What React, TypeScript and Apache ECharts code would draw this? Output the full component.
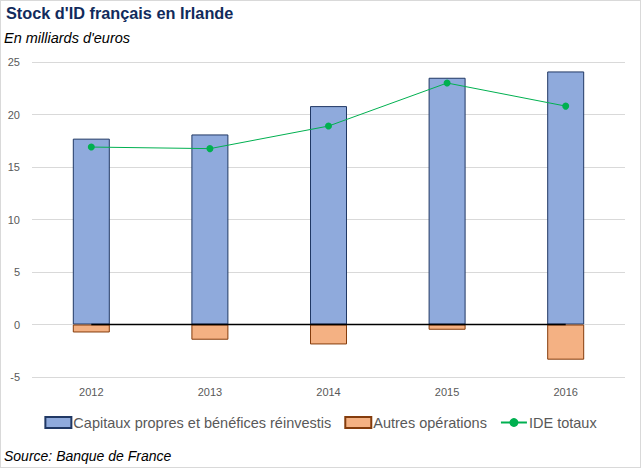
import React, { useEffect, useRef } from "react";
import * as echarts from "echarts";

const years = ["2012", "2013", "2014", "2015", "2016"];
const capitaux = [17.7, 18.1, 20.8, 23.5, 24.1];
const autres = [-0.76, -1.45, -1.9, -0.5, -3.35];
const ideTotaux = [16.9, 16.75, 18.9, 23.0, 20.8];
const zeroLine = [0, 0, 0, 0, 0];

export default function App() {
  const ref = useRef<HTMLDivElement>(null);
  useEffect(() => {
    if (!ref.current) return;
    const chart = echarts.init(ref.current, null, { renderer: "svg" });
    const font = "Liberation Sans";
    chart.setOption({
      animation: false,
      backgroundColor: "#ffffff",
      textStyle: { fontFamily: font },
      title: [
        {
          text: "Stock d'ID français en Irlande",
          left: 5,
          top: 4,
          padding: 0,
          textStyle: { fontFamily: font, fontSize: 16.3, fontWeight: "bold", color: "#112b5c" },
        },
        {
          text: "En milliards d'euros",
          left: 3,
          top: 29,
          padding: 0,
          textStyle: { fontFamily: font, fontSize: 14.5, fontStyle: "italic", fontWeight: "normal", color: "#000" },
        },
        {
          text: "Source: Banque de France",
          left: 3,
          top: 448,
          padding: 0,
          textStyle: { fontFamily: font, fontSize: 14, fontStyle: "italic", fontWeight: "normal", color: "#000" },
        },
      ],
      legend: {
        left: "center",
        top: 409,
        itemWidth: 26,
        itemHeight: 11,
        itemGap: 13,
        textStyle: { fontFamily: font, fontSize: 14.5, color: "#595959", padding: [0, 0, 0, -3] },
        data: [
          { name: "Capitaux propres et bénéfices réinvestis", icon: "rect" },
          { name: "Autres opérations", icon: "rect" },
          { name: "IDE totaux" },
        ],
      },
      grid: { left: 31, right: 15, top: 61, bottom: 90, containLabel: false },
      xAxis: {
        type: "category",
        data: years,
        axisLine: { show: false, onZero: false },
        axisTick: { show: false },
        axisLabel: { color: "#595959", fontSize: 11, margin: 9 },
      },
      yAxis: {
        type: "value",
        min: -5,
        max: 25,
        interval: 5,
        axisLine: { show: false },
        axisTick: { show: false },
        axisLabel: { color: "#595959", fontSize: 11, margin: 12 },
        splitLine: { lineStyle: { color: "#d9d9d9", width: 1 } },
      },
      series: [
        {
          name: "Capitaux propres et bénéfices réinvestis",
          type: "bar",
          stack: "total",
          data: capitaux,
          barWidth: 37,
          itemStyle: { color: "#8faadc", borderColor: "#203864", borderWidth: 1 },
        },
        {
          name: "Autres opérations",
          type: "bar",
          stack: "total",
          data: autres,
          barWidth: 37,
          itemStyle: { color: "#f4b183", borderColor: "#843c0c", borderWidth: 1 },
        },
        {
          name: "zero",
          type: "line",
          data: zeroLine,
          symbol: "none",
          silent: true,
          z: 3,
          lineStyle: { color: "#000000", width: 1.3 },
          itemStyle: { color: "#000000" },
        },
        {
          name: "IDE totaux",
          type: "line",
          data: ideTotaux,
          symbol: "circle",
          symbolSize: 7,
          z: 4,
          lineStyle: { color: "#00b050", width: 1 },
          itemStyle: { color: "#00b050" },
        },
      ],
    });
    return () => chart.dispose();
  }, []);
  return (
    <div
      ref={ref}
      style={{
        position: "fixed",
        left: 0,
        top: 0,
        width: 641,
        height: 468,
        boxSizing: "border-box",
        border: "1px solid #d9d9d9",
      }}
    />
  );
}
